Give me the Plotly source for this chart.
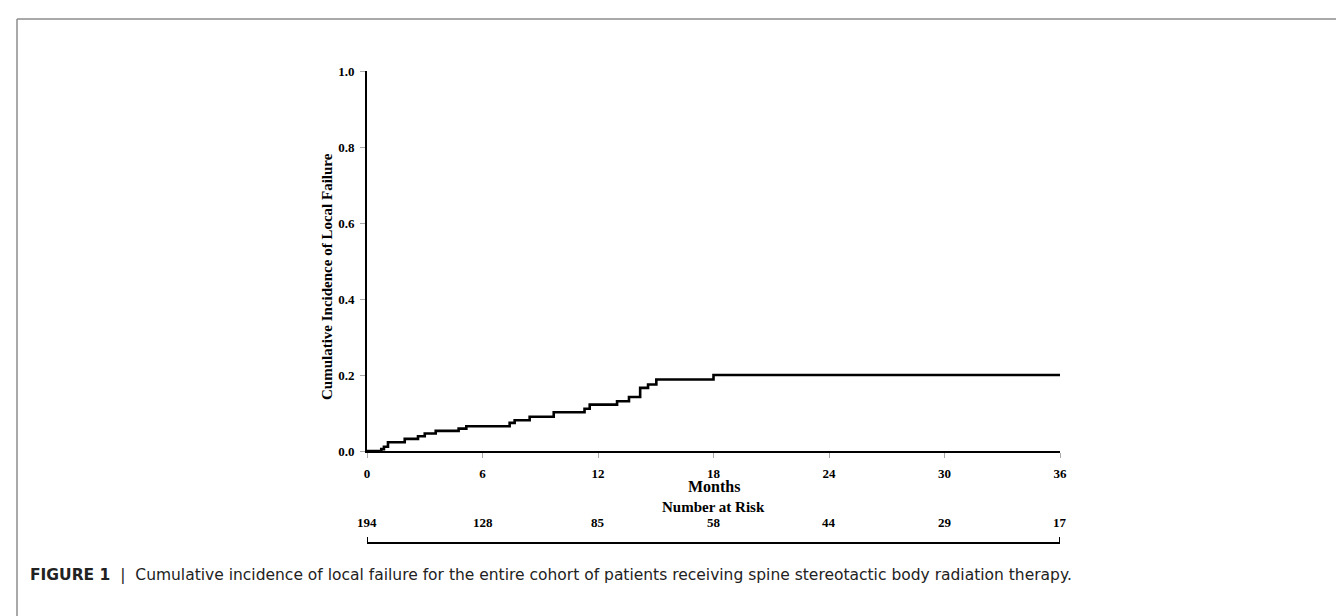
import plotly.graph_objects as go

# Step curve (cumulative incidence of local failure)
months = [0, 0.74, 0.88, 1.09, 1.96, 2.65, 3.0, 3.57, 4.76, 5.16, 7.41, 7.67, 8.45,
          9.7, 11.3, 11.57, 12.99, 13.61, 14.19, 14.6, 15.03, 18.0, 36]
incidence = [0, 0.005, 0.011, 0.023, 0.032, 0.039, 0.046, 0.053, 0.059, 0.065, 0.074,
             0.081, 0.090, 0.102, 0.111, 0.122, 0.131, 0.142, 0.166, 0.175, 0.188, 0.200, 0.200]

x_ticks = [0, 6, 12, 18, 24, 30, 36]
y_ticks = [0.0, 0.2, 0.4, 0.6, 0.8, 1.0]
y_tick_labels = ["0.0", "0.2", "0.4", "0.6", "0.8", "1.0"]

risk_times = [0, 6, 12, 18, 24, 30, 36]
risk_numbers = [194, 128, 85, 58, 44, 29, 17]

W, H = 1344, 616
L, R, T, B = 359, 1052, 63, 443
pw, ph = R - L, B - T


def px(xp):
    return (xp - L) / pw


def py(yp):
    return (B - yp) / ph


serif = "Liberation Serif"
fig = go.Figure()
fig.add_trace(go.Scatter(x=months, y=incidence, mode="lines", line_shape="hv",
                         line=dict(color="black", width=2.6), showlegend=False,
                         hoverinfo="skip", cliponaxis=False))

tickfont = dict(family=serif, size=13, color="black", weight="bold")
fig.update_layout(
    width=W, height=H, paper_bgcolor="white", plot_bgcolor="white",
    margin=dict(l=L, r=W - R, t=T, b=H - B),
    xaxis=dict(range=[0, 36], tickvals=x_ticks, showline=True, linecolor="black", linewidth=2,
               ticks="outside", ticklen=5, tickcolor="#aaaaaa", tickwidth=1, showgrid=False,
               zeroline=False, tickfont=tickfont, ticklabelstandoff=4),
    yaxis=dict(range=[0, 1], tickvals=y_ticks, ticktext=y_tick_labels, showline=True,
               linecolor="black", linewidth=2, ticks="outside", ticklen=5, tickcolor="#aaaaaa",
               tickwidth=1, showgrid=False, zeroline=False, tickfont=tickfont,
               ticklabelstandoff=3),
)

annotations = [
    dict(text="Cumulative Incidence of Local Failure", textangle=-90, x=px(309), y=py(269),
         xref="paper", yref="paper", showarrow=False,
         font=dict(family=serif, size=15, color="black", weight="bold")),
    dict(text="Months", x=0.5, y=py(489), xref="paper", yref="paper", showarrow=False,
         font=dict(family=serif, size=16, color="black", weight="bold")),
    dict(text="Number at Risk", x=0.5, y=py(509), xref="paper", yref="paper", showarrow=False,
         font=dict(family=serif, size=15, color="black", weight="bold")),
    dict(text="<b>FIGURE 1</b>  |  Cumulative incidence of local failure for the entire cohort of patients receiving spine stereotactic body radiation therapy.",
         x=px(20), y=py(578), xref="paper", yref="paper", xanchor="left", showarrow=False,
         font=dict(family="DejaVu Sans", size=15.5, color="#222222")),
]
for t, n in zip(risk_times, risk_numbers):
    annotations.append(dict(text=str(n), x=t, y=py(524), xref="x", yref="paper", showarrow=False,
                            font=dict(family=serif, size=13, color="black", weight="bold")))
fig.update_layout(annotations=annotations)

ly = 535
shapes = [
    # risk table line with end ticks
    dict(type="line", xref="x", yref="paper", x0=risk_times[0], x1=risk_times[-1],
         y0=py(ly), y1=py(ly), line=dict(color="black", width=2)),
    dict(type="line", xref="x", yref="paper", x0=risk_times[0], x1=risk_times[0],
         y0=py(ly), y1=py(ly - 6), line=dict(color="black", width=2)),
    dict(type="line", xref="x", yref="paper", x0=risk_times[-1], x1=risk_times[-1],
         y0=py(ly), y1=py(ly - 6), line=dict(color="black", width=2)),
    # figure frame
    dict(type="line", xref="paper", yref="paper", x0=px(9), x1=px(1350), y0=py(11), y1=py(11),
         line=dict(color="#8c8c8c", width=1.5)),
    dict(type="line", xref="paper", yref="paper", x0=px(9), x1=px(9), y0=py(11), y1=py(620),
         line=dict(color="#8c8c8c", width=1.5)),
]
fig.update_layout(shapes=shapes)

fig.write_html("out.html")
